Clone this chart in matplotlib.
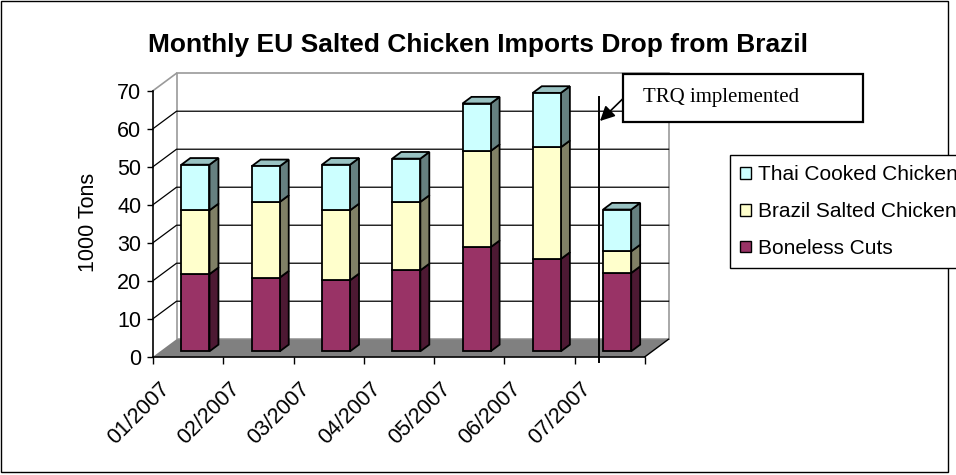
import matplotlib
matplotlib.use('Agg')
import matplotlib.pyplot as plt
from matplotlib.patches import Polygon, Rectangle, Patch
from matplotlib.lines import Line2D
import numpy as np

# ---------------- data ----------------
months = ['01/2007', '02/2007', '03/2007', '04/2007', '05/2007', '06/2007', '07/2007']
boneless = [20.3, 19.4, 18.7, 21.3, 27.4, 24.3, 20.6]
brazil = [16.8, 19.9, 18.4, 18.0, 25.3, 29.4, 5.7]
thai = [12.0, 9.4, 12.0, 11.4, 12.5, 14.3, 11.0]
series_names = ['Boneless Cuts', 'Brazil Salted Chicken', 'Thai Cooked Chicken']
yticks = [0, 10, 20, 30, 40, 50, 60, 70]
title = 'Monthly EU Salted Chicken Imports Drop from Brazil'
ylabel = '1000 Tons'
note = 'TRQ implemented'

# ---------------- style ----------------
front_cols = ['#993366', '#FFFFCC', '#CCFFFF']
side_cols = ['#4D1933', '#808066', '#668080']
top_cols = ['#73264D', '#BFBF99', '#99C2C2']

plt.rcParams['font.family'] = ['Liberation Sans', 'DejaVu Sans']
W, H = 956, 475
fig = plt.figure(figsize=(W / 100, H / 100), dpi=100)
fig.patch.set_facecolor('white')


def fx(px):
    return px / W


def fy(py):
    return 1 - py / H


ax = fig.add_axes([fx(153), fy(356.7), 492 / W, 266 / H])
n = len(months)
ax.set_xlim(0, n)
ax.set_ylim(0, 70)
ax.patch.set_visible(False)

DX, DY = 0.335, 4.6  # oblique depth offset (category units, value units)


def P(x, y, d):
    return (x + d * DX, y + d * DY)


ymax = yticks[-1]
# back wall
ax.add_patch(Polygon([P(0, 0, 1), P(n, 0, 1), P(n, ymax, 1), P(0, ymax, 1)],
                     closed=True, fc='white', ec='#9A9A9A', lw=1.2,
                     zorder=0.5, clip_on=False))
# gridlines on back and left walls
for v in yticks[1:-1]:
    pts = [P(0, v, 0), P(0, v, 1), P(n, v, 1)]
    ax.plot([p[0] for p in pts], [p[1] for p in pts], color='black', lw=0.9,
            zorder=0.6, clip_on=False)
pts = [P(0, ymax, 0), P(0, ymax, 1)]
ax.plot([p[0] for p in pts], [p[1] for p in pts], color='#9A9A9A', lw=1.2,
        zorder=0.6, clip_on=False)
# floor
ax.add_patch(Polygon([P(0, 0, 0), P(n, 0, 0), P(n, 0, 1), P(0, 0, 1)],
                     closed=True, fc='#808080', ec='none', zorder=0.7, clip_on=False))
pts = [P(n, 0, 0), P(n, 0, 1)]
ax.plot([p[0] for p in pts], [p[1] for p in pts], color='black', lw=1.0,
        zorder=0.8, clip_on=False)

# bars
d0, d1 = 0.31, 0.69
bw = 0.4
centers = np.arange(n) + 0.5
series = [boneless, brazil, thai]
bottom = np.zeros(n)
for s, vals in enumerate(series):
    vals = np.array(vals)
    ax.bar(centers + d0 * DX, vals, bottom=bottom + d0 * DY, width=bw,
           color=front_cols[s], edgecolor='black', lw=1.3, zorder=3, clip_on=False)
    for i in range(n):
        xr = centers[i] + bw / 2
        xl = centers[i] - bw / 2
        b, t = bottom[i], bottom[i] + vals[i]
        ax.add_patch(Polygon([P(xr, b, d0), P(xr, t, d0), P(xr, t, d1), P(xr, b, d1)],
                             closed=True, fc=side_cols[s], ec='black', lw=1.3,
                             zorder=2.9, clip_on=False))
        if s == len(series) - 1:
            ax.add_patch(Polygon([P(xl, t, d0), P(xr, t, d0), P(xr, t, d1), P(xl, t, d1)],
                                 closed=True, fc=top_cols[s], ec='black', lw=1.3,
                                 zorder=2.9, clip_on=False))
    bottom = bottom + vals

# axes styling
for sp in ['top', 'right']:
    ax.spines[sp].set_visible(False)
for sp in ['left', 'bottom']:
    ax.spines[sp].set_color('black')
    ax.spines[sp].set_linewidth(1.2)
    ax.spines[sp].set_zorder(1)
ax.set_yticks(yticks)
ax.set_xticks(np.arange(n + 1))
ax.set_xticklabels([])
ax.tick_params(axis='y', labelsize=15.5, length=4.5, width=1, pad=4, colors='black')
ax.tick_params(axis='x', length=5, width=1)

for i, m in enumerate(months):
    ax.text(centers[i] - 0.31, -7.6, m, rotation=45, rotation_mode='anchor',
            ha='right', va='center', fontsize=15.5, color='black')

fig.text(0.5, fy(45), title, ha='center', va='center', fontsize=19, fontweight='bold')
fig.text(fx(88), fy(222), ylabel, rotation=90, ha='center', va='center', fontsize=15.5)

# TRQ annotation
fig.add_artist(Line2D([fx(599.3), fx(599.3)], [fy(361.7), fy(97.3)], color='black', lw=1.4))
fig.add_artist(Rectangle((fx(623.3), fy(121.7)), 240 / W, 47.7 / H, transform=fig.transFigure,
                         fc='white', ec='black', lw=1.6))
fig.text(fx(643), fy(97.5), note, family=['Liberation Serif', 'DejaVu Serif'],
         fontsize=15, va='center', ha='left')
ax.annotate('', xy=(fx(600), fy(121)), xycoords='figure fraction',
            xytext=(fx(623.3), fy(98.3)), textcoords='figure fraction',
            arrowprops=dict(arrowstyle='-|>', color='black', lw=1.2, mutation_scale=22,
                            shrinkA=0, shrinkB=0))

# legend
handles = [Patch(fc=front_cols[s], ec='black', lw=1) for s in [2, 1, 0]]
labels = [series_names[s] for s in [2, 1, 0]]
leg = fig.legend(handles, labels, loc='upper left', bbox_to_anchor=(fx(730), fy(155)),
                 frameon=True, fancybox=False, edgecolor='black', framealpha=1,
                 fontsize=15, handlelength=0.5, handleheight=0.5, handletextpad=0.35,
                 borderpad=0.5, labelspacing=0.85, borderaxespad=0)
leg.get_frame().set_linewidth(1)

# outer chart frame
fig.add_artist(Rectangle((fx(1), fy(472)), 947 / W, 471 / H, transform=fig.transFigure,
                         fill=False, ec='black', lw=1))

fig.savefig('out.png', dpi=100)
